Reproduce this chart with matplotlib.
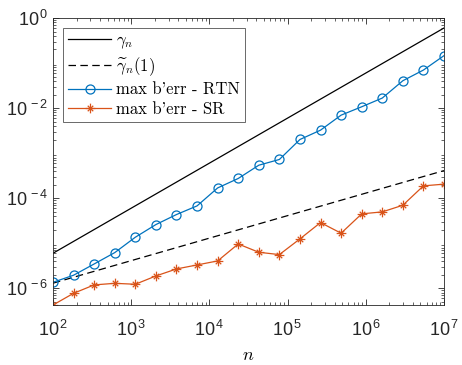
import numpy as np
import matplotlib
matplotlib.use("Agg")
import matplotlib.pyplot as plt
from matplotlib.font_manager import FontProperties
from matplotlib.ticker import LogLocator, NullFormatter
from matplotlib.path import Path

plt.rcParams['mathtext.fontset'] = 'custom'
plt.rcParams['mathtext.rm'] = 'Liberation Sans'
plt.rcParams['mathtext.it'] = 'Liberation Sans:italic'
plt.rcParams['font.family'] = 'Liberation Sans'

# problem sizes (20 points, 1e2 .. 1e7)
n = np.array([100, 183, 336, 616, 1129, 2070, 3793, 6952, 12743, 23357,
              42813, 78476, 143845, 263665, 483293, 885867, 1623777,
              2976351, 5455595, 10000000])

# bounds (read at the end points)
n_bound = [1e2, 1e7]
gamma_n = [6.0e-6, 0.6]
gamma_tilde = [1.3e-6, 4.1e-4]

# max backward error, round to nearest
berr_rtn = [1.36e-6, 1.95e-6, 3.47e-6, 6.2e-6, 1.36e-5, 2.6e-5, 4.34e-5,
            6.75e-5, 1.69e-4, 2.74e-4, 5.4e-4, 7.24e-4, 2.01e-3, 3.24e-3,
            6.98e-3, 1.07e-2, 1.67e-2, 4.05e-2, 6.99e-2, 0.146]

# max backward error, stochastic rounding
berr_sr = [4.26e-7, 7.74e-7, 1.19e-6, 1.29e-6, 1.23e-6, 1.88e-6, 2.69e-6,
           3.3e-6, 4.05e-6, 9.64e-6, 6.31e-6, 5.6e-6, 1.25e-5, 2.88e-5,
           1.67e-5, 4.49e-5, 4.97e-5, 6.98e-5, 1.88e-4, 2.05e-4]

blue = '#0072BD'
orange = '#D95319'

# matlab-like asterisk marker (+ and x together)
verts, codes = [], []
for a in np.arange(0, np.pi, np.pi / 4):
    r = 1.0 if a % (np.pi / 2) == 0 else 0.8
    verts += [(-r * np.cos(a), -r * np.sin(a)), (r * np.cos(a), r * np.sin(a))]
    codes += [Path.MOVETO, Path.LINETO]
asterisk = Path(verts, codes)

fig = plt.figure(figsize=(4.62, 3.65), dpi=100)
ax = fig.add_axes([53/462, 60/365, 391/462, 287/365])

ax.loglog(n_bound, gamma_n, '-', color='k', lw=0.9, label=r'$\gamma_n$')
ax.loglog(n_bound, gamma_tilde, '--', color='k', lw=0.9, dashes=(6, 3.5),
          label=r'$\widetilde{\gamma}_n(1)$')
ax.loglog(n, berr_rtn, '-o', color=blue, lw=0.9, ms=6.5, mfc='none',
          mew=0.9, label="max b'err - RTN")
ax.loglog(n, berr_sr, '-', marker=asterisk, color=orange, lw=0.9, ms=7,
          mew=0.9, label="max b'err - SR")

ax.set_xlim(1e2, 1e7)
ax.set_ylim(berr_sr[0], 1e0)

ax.set_xticks([1e2, 1e3, 1e4, 1e5, 1e6, 1e7])
ax.set_xticklabels([r'$10^{\,%d}$' % k for k in range(2, 8)])
ax.set_yticks([1e-6, 1e-4, 1e-2, 1e0])
ax.set_yticklabels([r'$10^{\,%d}$' % k for k in [-6, -4, -2, 0]])
ax.xaxis.set_minor_locator(LogLocator(base=10, subs=np.arange(2, 10), numticks=20))
ax.yaxis.set_minor_locator(LogLocator(base=10, subs=np.arange(2, 10), numticks=20))
ax.xaxis.set_minor_formatter(NullFormatter())
ax.yaxis.set_minor_formatter(NullFormatter())

axcol = '#262626'
ax.tick_params(which='both', direction='in', top=True, right=True,
               colors=axcol, labelcolor=axcol)
ax.tick_params(which='major', length=4, width=0.6, labelsize=13)
ax.tick_params(which='minor', length=2.2, width=0.5)
ax.tick_params(axis='x', pad=11)
for s in ax.spines.values():
    s.set_color(axcol)
    s.set_linewidth(0.6)

ax.set_xlabel(r'$n$', fontsize=13, math_fontfamily='cm', labelpad=5)

leg_prop = FontProperties(family='cmr10', size=12, math_fontfamily='cm')
leg = ax.legend(loc='upper left', prop=leg_prop, frameon=True, fancybox=False,
                edgecolor=axcol, handlelength=2.6, handletextpad=0.3,
                borderpad=0.3, labelspacing=0.25, borderaxespad=0.6)
leg.get_frame().set_linewidth(0.6)

fig.savefig('out.png', dpi=100)
